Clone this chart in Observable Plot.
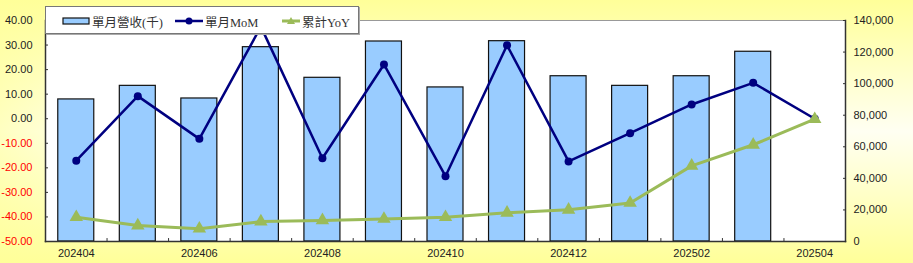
<!DOCTYPE html>
<html>
<head>
<meta charset="utf-8">
<script src="https://cdn.jsdelivr.net/npm/d3@7"></script>
<script src="https://cdn.jsdelivr.net/npm/@observablehq/plot@0.6"></script>
<style>
  html, body { margin: 0; padding: 0; }
  body {
    width: 913px; height: 263px; position: relative; overflow: hidden;
    background:
      linear-gradient(to right, rgba(255,255,153,0.55), rgba(255,255,153,0) 12%),
      linear-gradient(to bottom, #FFFF99 0%, #FFFFF2 50%, #FFFF99 100%);
  }
  #chart { position: absolute; left: 0; top: 0; }
  #legend {
    position: absolute; left: 45px; top: 6px; width: 314px; height: 28px;
    background: #fff; border: 1px solid #777; box-shadow: 1px 1px 0 #aaa;
    font-family: "Liberation Serif", "Noto Sans CJK TC", serif; font-size: 12.5px; color: #333;
    box-sizing: border-box;
  }
  #legend .item { position: absolute; top: 0; height: 28px; display: flex; align-items: center; }
  #legend svg { display: block; margin-right: 2px; }
</style>
</head>
<body>
<div id="chart"></div>
<div id="legend"></div>
<script>
const months = ["202404","202405","202406","202407","202408","202409","202410","202411","202412","202501","202502","202503","202504"];
const revenue = [90000, 98600, 90600, 123100, 103700, 126700, 97600, 126900, 104700, 98600, 104700, 120200, null];
const mom = [-17.1, 9.2, -8.2, 37.5, -16.1, 22.1, -23.4, 29.9, -17.4, -5.9, 5.8, 14.6, 0.0];
const yoy = [-40.1, -43.5, -44.8, -41.9, -41.4, -40.8, -40.1, -38.3, -37.1, -34.3, -19.2, -10.6, -0.2];
const leftTicks = [-50, -40, -30, -20, -10, 0, 10, 20, 30, 40];
const rightTicks = [0, 20000, 40000, 60000, 80000, 100000, 120000, 140000];
const xLabels = ["202404","202406","202408","202410","202412","202502","202504"];
const seriesNames = ["單月營收(千)", "單月MoM", "累計YoY"];

const yMin = -50, yMax = 40, rMax = 140000;
const toLeft = v => yMin + v * (yMax - yMin) / rMax;

const data = months.map((m, i) => ({month: m, revenue: revenue[i], mom: mom[i], yoy: yoy[i]}));
const barData = data.filter(d => d.revenue != null);

const navy = "#000080", green = "#9BBB59", barFill = "#99CCFF";
const step = 800 / 13;

const chart = Plot.plot({
  width: 913, height: 263,
  marginLeft: 45, marginRight: 68, marginTop: 20, marginBottom: 22,
  style: {fontFamily: "'Liberation Sans', Arial, sans-serif", fontSize: "11px", background: "transparent", color: "#222"},
  x: {domain: months, paddingInner: 0.415, paddingOuter: 0.2075, round: false, label: null},
  y: {domain: [yMin, yMax], label: null},
  marks: [
    Plot.frame({fill: "white", stroke: "#999"}),
    Plot.barY(barData, {x: "month", y1: yMin, y2: d => toLeft(d.revenue), fill: barFill, stroke: "#111", strokeWidth: 1.2}),
    Plot.ruleX(months.slice(0, 12), {x: d => d, y1: yMin, y2: yMin + 1.2, dx: step / 2, stroke: "#333"}),
    Plot.line(data, {x: "month", y: "mom", stroke: navy, strokeWidth: 2.5}),
    Plot.dot(data, {x: "month", y: "mom", r: 4, fill: navy}),
    Plot.line(data, {x: "month", y: "yoy", stroke: green, strokeWidth: 3}),
    Plot.dot(data, {x: "month", y: "yoy", symbol: "triangle", r: 5, fill: green}),
    Plot.frame({anchor: "left", stroke: "#333", strokeWidth: 1.5}),
    Plot.frame({anchor: "right", stroke: "#333", strokeWidth: 1.5}),
    Plot.frame({anchor: "bottom", stroke: "#333", strokeWidth: 1.5}),
    Plot.axisY(leftTicks, {anchor: "left", tickSize: 3, dx: 3, text: null, stroke: "#333"}),
    Plot.axisY(leftTicks.filter(t => t >= 0), {anchor: "left", tickSize: 0, tickPadding: 13, tickFormat: d => d.toFixed(2), fill: "#222"}),
    Plot.axisY(leftTicks.filter(t => t < 0), {anchor: "left", tickSize: 0, tickPadding: 13, tickFormat: d => d.toFixed(2), fill: "#FF0000"}),
    Plot.axisY(rightTicks.map(toLeft), {anchor: "right", tickSize: 3, dx: -3, text: null, stroke: "#333"}),
    Plot.axisY(rightTicks.map(toLeft), {anchor: "right", tickSize: 0, tickPadding: 8, tickFormat: v => d3.format(",")(Math.round((v - yMin) * rMax / (yMax - yMin))), fill: "#222"}),
    Plot.axisX(xLabels, {anchor: "bottom", tickSize: 0, tickPadding: 8, fill: "#222"})
  ]
});
document.getElementById("chart").appendChild(chart);

// Legend
const legend = document.getElementById("legend");
const items = [
  {left: 16, name: seriesNames[0], sw: `<svg width="28" height="10"><rect x="1" y="2" width="26" height="6" fill="${barFill}" stroke="#111" stroke-width="1.2"/></svg>`},
  {left: 129, name: seriesNames[1], sw: `<svg width="28" height="10"><line x1="0" y1="5" x2="28" y2="5" stroke="${navy}" stroke-width="2.5"/><circle cx="14" cy="5" r="3.5" fill="${navy}"/></svg>`},
  {left: 236, name: seriesNames[2], sw: `<svg width="18" height="10"><line x1="0" y1="5" x2="18" y2="5" stroke="${green}" stroke-width="3"/><path d="M9,1 L13,8 L5,8 Z" fill="${green}"/></svg>`}
];
for (const it of items) {
  const div = document.createElement("div");
  div.className = "item";
  div.style.left = it.left + "px";
  div.innerHTML = it.sw + `<span>${it.name}</span>`;
  legend.appendChild(div);
}
</script>
</body>
</html>
